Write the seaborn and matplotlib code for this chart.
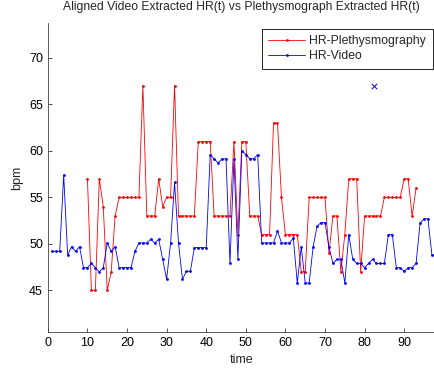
import numpy as np
import pandas as pd
import matplotlib
matplotlib.use('Agg')
import matplotlib.pyplot as plt
import seaborn as sns

# dane
red_t = list(range(10, 94))
red_hr = [57, 45, 45, 57, 54, 45, 47, 53,
          55, 55, 55, 55, 55, 55,
          67, 53, 53, 53, 57, 54, 55, 55, 67,
          53, 53, 53, 53, 53,
          61, 61, 61, 61,
          53, 53, 53, 53, 53,
          61, 51, 61, 61,
          53, 53, 53,
          51, 51, 51,
          63, 63, 55,
          51, 51, 51, 51,
          47, 47,
          55, 55, 55, 55, 55,
          49, 53, 53, 47, 51,
          57, 57, 57, 47,
          53, 53, 53, 53, 53,
          55, 55, 55, 55, 55,
          57, 57, 53, 56]

blue_t = list(range(1, 100))
blue_hr = [49.2, 49.2, 49.2, 57.4, 48.8, 49.7, 49.2, 49.7, 47.45, 47.45,
           47.9, 47.45, 47.0, 47.45, 50.1, 49.2, 49.7, 47.45, 47.45, 47.45,
           47.45, 49.2, 50.1, 50.1, 50.1, 50.5, 50.1, 50.5, 48.35, 46.2,
           50.1, 56.6, 50.1, 46.2, 47.05, 47.05, 49.6, 49.6, 49.6, 49.6,
           59.6, 59.15, 58.7, 59.15, 59.15, 47.9, 59.15, 48.35, 60.0, 59.6,
           59.15, 59.15, 59.6, 50.1, 50.1, 50.1, 50.1, 51.4, 50.1, 50.1,
           50.1, 50.6, 45.8, 49.7, 45.8, 45.8, 49.7, 51.9, 52.3, 52.3,
           49.7, 47.9, 48.35, 48.35, 45.8, 51.0, 48.35, 47.9, 47.9, 47.45,
           47.9, 48.35, 47.9, 47.9, 47.9, 51.0, 51.0, 47.45, 47.45, 47.05,
           47.45, 47.45, 47.9, 52.2, 52.7, 52.7, 48.8, 48.8, 48.3]

extra_t = [82.5]
extra_hr = [67]

xticks = [0, 10, 20, 30, 40, 50, 60, 70, 80, 90]
yticks = [45, 50, 55, 60, 65, 70]

sns.set_style('ticks')
plt.rcParams['font.family'] = ['Liberation Sans', 'DejaVu Sans']
plt.rcParams['font.size'] = 9

fig = plt.figure(figsize=(4.35, 3.68), dpi=100)
ax = fig.add_axes([0.110, 0.098, 0.892, 0.840])

sns.lineplot(x=red_t, y=red_hr, ax=ax, color='red', lw=0.6, marker='.',
             markersize=4, markeredgewidth=0, label='HR-Plethysmography')
sns.lineplot(x=blue_t, y=blue_hr, ax=ax, color='blue', lw=0.6, marker='.',
             markersize=4, markeredgewidth=0, label='HR-Video')
sns.scatterplot(x=extra_t, y=extra_hr, ax=ax, color='blue', marker='x',
                s=16, linewidth=0.7, legend=False)

ax.set_xlim(0, 98)
ax.set_ylim(40.54, 73.76)
ax.set_xticks(xticks)
ax.set_yticks(yticks)
ax.tick_params(direction='in', length=3, width=0.6, labelsize=9, colors='#333333',
               labelcolor='black')
for s in ['left', 'bottom']:
    ax.spines[s].set_linewidth(0.6)
    ax.spines[s].set_color('#444444')
sns.despine(ax=ax)

ax.set_title('Aligned Video Extracted HR(t) vs Plethysmograph Extracted HR(t)', fontsize=8.7, pad=9)
ax.set_xlabel('time', fontsize=9)
ax.set_ylabel('bpm', fontsize=9)

leg = ax.legend(loc='upper right', bbox_to_anchor=(0.992, 0.981), fontsize=8.8,
                fancybox=False, framealpha=1, edgecolor='black', borderpad=0.55,
                handlelength=3.0, handletextpad=0.35, labelspacing=0.2,
                borderaxespad=0)
leg.get_frame().set_linewidth(0.6)

plt.savefig('out.png', dpi=100)
